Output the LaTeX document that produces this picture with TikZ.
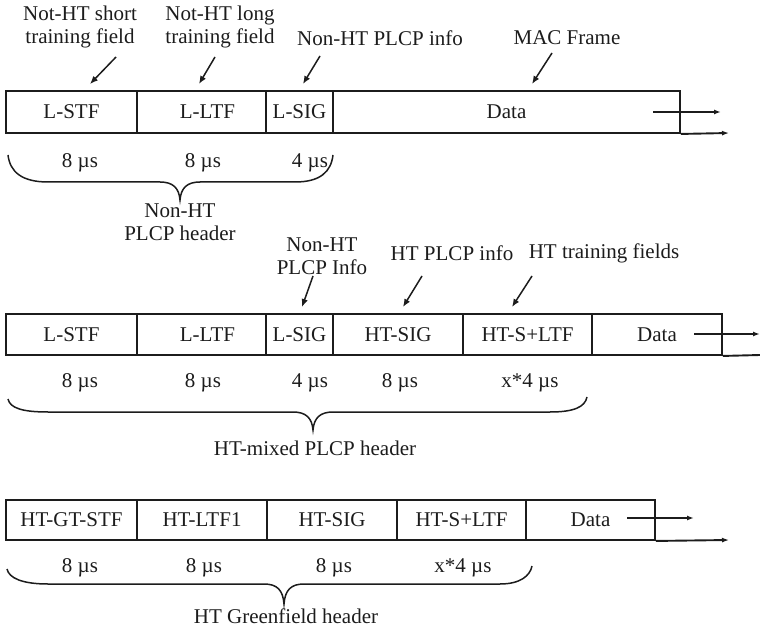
\documentclass[tikz,border=0pt]{standalone}
\usepackage{fontspec}
\setmainfont{Liberation Serif}
\usetikzlibrary{arrows.meta}
\definecolor{ink}{RGB}{28,28,28}
\newcommand\fcell[6]{\node[cell,minimum width={(#3-#2)*1pt},minimum height={(#5-#4)*1pt}] (#1) at ({(#2+#3)/2},{(#4+#5)/2}) {#6};}
\begin{document}
\begin{tikzpicture}[x=1pt,y=-1pt,
  font=\fontsize{21}{22.5}\selectfont,
  cell/.style={draw=ink, line width=1.9pt, inner sep=0pt, text=ink},
  lbl/.style={text=ink, inner sep=0pt},
  dur/.style={text=ink, inner sep=0pt},
  ptr/.style={draw=ink, line width=1.5pt, -{Latex[length=8pt,width=6.5pt]}},
  flow/.style={draw=ink, line width=1.5pt, -{Latex[length=7pt,width=5pt]}},
  baseline/.style={draw=ink, line width=1.9pt},
  bracestyle/.style={draw=ink, line width=1.5pt}]
\useasboundingbox (0,0) rectangle (760,628);

% ---------------- Row 1: Non-HT ----------------
\fcell{a1}{6}{137}{91}{133}{L-STF}
\fcell{a2}{137}{266}{91}{133}{\hspace*{12pt}L-LTF}
\fcell{a3}{266}{333}{91}{133}{L-SIG}
\fcell{a4}{333}{680}{91}{133}{Data}

\node[lbl,align=center] (ta1) at (80,27) {Not-HT short\\training field};
\node[lbl,align=center] (ta2) at (220,27) {Not-HT long\\training field};
\node[lbl] (ta3) at (380,38) {Non-HT PLCP info};
\node[lbl] (ta4) at (567,38) {MAC Frame};

\coordinate (p1s) at (116,57); \coordinate (p1e) at (90,84);
\coordinate (p2s) at (215,57); \coordinate (p2e) at (199,84);
\coordinate (p3s) at (320,56); \coordinate (p3e) at (303,84);
\coordinate (p4s) at (552,53); \coordinate (p4e) at (532,84);
\draw[ptr] (p1s) -- (p1e);
\draw[ptr] (p2s) -- (p2e);
\draw[ptr] (p3s) -- (p3e);
\draw[ptr] (p4s) -- (p4e);

\coordinate (f1s) at (653,112); \coordinate (f1e) at (721,112);
\draw[flow] (f1s) -- (f1e);
\coordinate (b1e) at (729,133);
\draw[baseline,-{Latex[length=7pt,width=5pt]}] (a4.south east) -- (b1e);

\node[dur] (da1) at (80,163) {8 µs};
\node[dur] (da2) at (203,163) {8 µs};
\node[dur] (da3) at (310,163) {4 µs};

\draw[bracestyle] (8,155) .. controls (10,172) and (22,182) .. (48,182) -- (160,182)
  .. controls (173,182) and (179,188) .. (180,200)
  .. controls (181,188) and (187,182) .. (200,182) -- (295,182)
  .. controls (320,182) and (331,172) .. (333,155);
\node[lbl,align=center] (ha) at (180,222) {Non-HT\\PLCP header};

% ---------------- Row 2: HT-mixed ----------------
\fcell{b1}{6}{137}{314}{355}{L-STF}
\fcell{b2}{137}{266}{314}{355}{\hspace*{12pt}L-LTF}
\fcell{b3}{266}{333}{314}{355}{L-SIG}
\fcell{b4}{333}{463}{314}{355}{HT-SIG}
\fcell{b5}{463}{592}{314}{355}{HT-S+LTF}
\fcell{b6}{592}{722}{314}{355}{Data}

\node[lbl,align=center] (tb1) at (322,256) {Non-HT\\PLCP Info};
\node[lbl] (tb2) at (452,253) {HT PLCP info};
\node[lbl] (tb3) at (604,253) {HT training fields};

\coordinate (q1s) at (313,276); \coordinate (q1e) at (302,307);
\coordinate (q2s) at (422,276); \coordinate (q2e) at (403,307);
\coordinate (q3s) at (532,276); \coordinate (q3e) at (512,307);
\draw[ptr] (q1s) -- (q1e);
\draw[ptr] (q2s) -- (q2e);
\draw[ptr] (q3s) -- (q3e);

\coordinate (f2s) at (694,334); \coordinate (f2e) at (760,334);
\draw[flow] (f2s) -- (f2e);
\coordinate (b2e) at (760,355);
\draw[baseline] (b6.south east) -- (b2e);

\node[dur] (db1) at (80,383) {8 µs};
\node[dur] (db2) at (203,383) {8 µs};
\node[dur] (db3) at (310,383) {4 µs};
\node[dur] (db4) at (400,383) {8 µs};
\node[dur] (db5) at (530,383) {x*4 µs};

\draw[bracestyle] (8,399) .. controls (10,408) and (22,412) .. (48,412) -- (293,412)
  .. controls (306,412) and (312,418) .. (313,430)
  .. controls (314,418) and (320,412) .. (333,412) -- (550,412)
  .. controls (574,412) and (585,407) .. (587,397);
\node[lbl] (hb) at (315,448) {HT-mixed PLCP header};

% ---------------- Row 3: Greenfield ----------------
\fcell{c1}{6}{137}{500}{540}{HT-GT-STF}
\fcell{c2}{137}{267}{500}{540}{HT-LTF1}
\fcell{c3}{267}{397}{500}{540}{HT-SIG}
\fcell{c4}{397}{526}{500}{540}{HT-S+LTF}
\fcell{c5}{526}{655}{500}{540}{Data}

\coordinate (f3s) at (627,518); \coordinate (f3e) at (694,518);
\draw[flow] (f3s) -- (f3e);
\coordinate (b3e) at (729,540);
\draw[baseline,-{Latex[length=7pt,width=5pt]}] (c5.south east) -- (b3e);

\node[dur] (dc1) at (80,568) {8 µs};
\node[dur] (dc2) at (204,568) {8 µs};
\node[dur] (dc3) at (334,568) {8 µs};
\node[dur] (dc4) at (463,568) {x*4 µs};

\draw[bracestyle] (7,569) .. controls (9,578) and (22,584) .. (48,584) -- (264,584)
  .. controls (277,584) and (283,590) .. (284,604)
  .. controls (285,590) and (291,584) .. (304,584) -- (500,584)
  .. controls (520,584) and (530,576) .. (532,566);
\node[lbl] (hc) at (286,616) {HT Greenfield header};
\end{tikzpicture}
\end{document}
